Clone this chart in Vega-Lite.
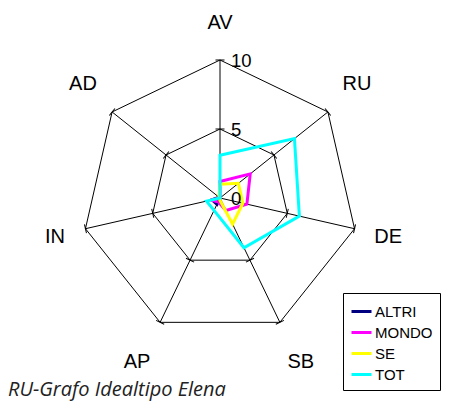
{
  "$schema": "https://vega.github.io/schema/vega-lite/v6.json",
  "width": 451,
  "height": 403,
  "autosize": "none",
  "padding": 0,
  "background": "white",
  "config": {"view": {"stroke": null}},
  "title": {"text": "RU-Grafo Idealtipo Elena", "orient": "bottom", "anchor": "start", "offset": -23, "dx": 8, "font": "Open Sans", "fontStyle": "italic", "fontWeight": "normal", "fontSize": 20, "color": "#222222"},
  "datasets": {
    "assi": [{"asse": "AV"}, {"asse": "RU"}, {"asse": "DE"}, {"asse": "SB"}, {"asse": "AP"}, {"asse": "IN"}, {"asse": "AD"}],
    "griglia": [
      {"asse": "AV", "livello": 5}, {"asse": "RU", "livello": 5}, {"asse": "DE", "livello": 5}, {"asse": "SB", "livello": 5}, {"asse": "AP", "livello": 5}, {"asse": "IN", "livello": 5}, {"asse": "AD", "livello": 5},
      {"asse": "AV", "livello": 10}, {"asse": "RU", "livello": 10}, {"asse": "DE", "livello": 10}, {"asse": "SB", "livello": 10}, {"asse": "AP", "livello": 10}, {"asse": "IN", "livello": 10}, {"asse": "AD", "livello": 10}
    ],
    "scala": [{"livello": 0, "etichetta": "0"}, {"livello": 5, "etichetta": "5"}, {"livello": 10, "etichetta": "10"}],
    "valori": [
      {"serie": "ALTRI", "asse": "AV", "v": 0}, {"serie": "ALTRI", "asse": "RU", "v": 0}, {"serie": "ALTRI", "asse": "DE", "v": 0}, {"serie": "ALTRI", "asse": "SB", "v": 0}, {"serie": "ALTRI", "asse": "AP", "v": 0.5}, {"serie": "ALTRI", "asse": "IN", "v": 0.6}, {"serie": "ALTRI", "asse": "AD", "v": 0.1},
      {"serie": "MONDO", "asse": "AV", "v": 1.2}, {"serie": "MONDO", "asse": "RU", "v": 2.8}, {"serie": "MONDO", "asse": "DE", "v": 2.0}, {"serie": "MONDO", "asse": "SB", "v": 1.0}, {"serie": "MONDO", "asse": "AP", "v": 0.3}, {"serie": "MONDO", "asse": "IN", "v": 0.7}, {"serie": "MONDO", "asse": "AD", "v": 0},
      {"serie": "SE", "asse": "AV", "v": 1.0}, {"serie": "SE", "asse": "RU", "v": 1.7}, {"serie": "SE", "asse": "DE", "v": 1.7}, {"serie": "SE", "asse": "SB", "v": 2.1}, {"serie": "SE", "asse": "AP", "v": 0.1}, {"serie": "SE", "asse": "IN", "v": 0}, {"serie": "SE", "asse": "AD", "v": 0.1},
      {"serie": "TOT", "asse": "AV", "v": 3.1}, {"serie": "TOT", "asse": "RU", "v": 6.9}, {"serie": "TOT", "asse": "DE", "v": 5.9}, {"serie": "TOT", "asse": "SB", "v": 4.0}, {"serie": "TOT", "asse": "AP", "v": 1.0}, {"serie": "TOT", "asse": "IN", "v": 1.0}, {"serie": "TOT", "asse": "AD", "v": 0}
    ]
  },
  "layer": [
    {
      "data": {"name": "griglia"},
      "transform": [
        {"calculate": "indexof(['AV','RU','DE','SB','AP','IN','AD'], datum.asse)", "as": "idx"},
        {"calculate": "datum.idx * 2 * PI / 7", "as": "th"},
        {"calculate": "datum.livello * sin(datum.th)", "as": "px"},
        {"calculate": "datum.livello * cos(datum.th)", "as": "py"}
      ],
      "mark": {"type": "line", "interpolate": "linear-closed", "stroke": "black", "strokeWidth": 1},
      "encoding": {
        "x": {"field": "px", "type": "quantitative", "scale": {"domain": [-15.942, 16.739], "nice": false, "zero": false}, "axis": null},
        "y": {"field": "py", "type": "quantitative", "scale": {"domain": [-14.855, 14.348], "nice": false, "zero": false}, "axis": null},
        "detail": {"field": "livello"},
        "order": {"field": "idx", "type": "quantitative"}
      }
    },
    {
      "data": {"name": "assi"},
      "transform": [
        {"calculate": "indexof(['AV','RU','DE','SB','AP','IN','AD'], datum.asse)", "as": "idx"},
        {"calculate": "datum.idx * 2 * PI / 7", "as": "th"},
        {"calculate": "10 * sin(datum.th)", "as": "px"},
        {"calculate": "10 * cos(datum.th)", "as": "py"}
      ],
      "mark": {"type": "rule", "stroke": "black", "strokeWidth": 1},
      "encoding": {
        "x": {"field": "px", "type": "quantitative", "scale": {"domain": [-15.942, 16.739], "nice": false, "zero": false}, "axis": null},
        "y": {"field": "py", "type": "quantitative", "scale": {"domain": [-14.855, 14.348], "nice": false, "zero": false}, "axis": null},
        "x2": {"datum": 0},
        "y2": {"datum": 0}
      }
    },
    {
      "data": {"name": "griglia"},
      "transform": [
        {"calculate": "indexof(['AV','RU','DE','SB','AP','IN','AD'], datum.asse)", "as": "idx"},
        {"calculate": "datum.idx * 2 * PI / 7", "as": "th"},
        {"calculate": "datum.idx * 360 / 7", "as": "deg"},
        {"calculate": "datum.livello * sin(datum.th)", "as": "px"},
        {"calculate": "datum.livello * cos(datum.th)", "as": "py"}
      ],
      "mark": {"type": "point", "shape": "stroke", "size": 81, "stroke": "black", "strokeWidth": 1, "filled": false, "opacity": 1},
      "encoding": {
        "x": {"field": "px", "type": "quantitative", "scale": {"domain": [-15.942, 16.739], "nice": false, "zero": false}, "axis": null},
        "y": {"field": "py", "type": "quantitative", "scale": {"domain": [-14.855, 14.348], "nice": false, "zero": false}, "axis": null},
        "angle": {"field": "deg", "type": "quantitative", "scale": null}
      }
    },
    {
      "data": {"name": "valori"},
      "transform": [
        {"calculate": "indexof(['AV','RU','DE','SB','AP','IN','AD'], datum.asse)", "as": "idx"},
        {"calculate": "datum.idx * 2 * PI / 7", "as": "th"},
        {"calculate": "datum.v * sin(datum.th)", "as": "px"},
        {"calculate": "datum.v * cos(datum.th)", "as": "py"}
      ],
      "mark": {"type": "line", "interpolate": "linear-closed", "strokeJoin": "miter"},
      "encoding": {
        "x": {"field": "px", "type": "quantitative", "scale": {"domain": [-15.942, 16.739], "nice": false, "zero": false}, "axis": null},
        "y": {"field": "py", "type": "quantitative", "scale": {"domain": [-14.855, 14.348], "nice": false, "zero": false}, "axis": null},
        "order": {"field": "idx", "type": "quantitative"},
        "color": {
          "field": "serie", "type": "nominal",
          "scale": {"domain": ["ALTRI", "MONDO", "SE", "TOT"], "range": ["#000080", "#FF00FF", "#FFFF00", "#00FFFF"]},
          "legend": {"orient": "none", "legendX": 343, "legendY": 293, "title": null, "symbolType": "stroke", "symbolSize": 400, "symbolStrokeWidth": 3, "labelFont": "Liberation Sans", "labelFontSize": 15, "labelColor": "black", "labelOffset": 2, "strokeColor": "black", "fillColor": "white", "padding": 7, "rowPadding": 1}
        },
        "strokeWidth": {"field": "serie", "type": "nominal", "scale": {"domain": ["ALTRI", "MONDO", "SE", "TOT"], "range": [3, 3, 3, 4]}, "legend": null}
      }
    },
    {
      "data": {"name": "assi"},
      "transform": [
        {"calculate": "indexof(['AV','RU','DE','SB','AP','IN','AD'], datum.asse)", "as": "idx"},
        {"calculate": "datum.idx * 2 * PI / 7", "as": "th"},
        {"calculate": "{'AV': 12.7, 'RU': 12.7, 'DE': 12.5, 'SB': 13.5, 'AP': 13.85, 'IN': 12.26, 'AD': 12.7}[datum.asse]", "as": "rx"},
        {"calculate": "{'AV': 12.7, 'RU': 13.25, 'DE': 12.54, 'SB': 13.23, 'AP': 13.23, 'IN': 12.54, 'AD': 13.25}[datum.asse]", "as": "ry"},
        {"calculate": "datum.rx * sin(datum.th)", "as": "px"},
        {"calculate": "datum.ry * cos(datum.th)", "as": "py"}
      ],
      "mark": {"type": "text", "font": "Liberation Sans", "fontSize": 20, "color": "black", "align": "center", "baseline": "middle"},
      "encoding": {
        "x": {"field": "px", "type": "quantitative", "scale": {"domain": [-15.942, 16.739], "nice": false, "zero": false}, "axis": null},
        "y": {"field": "py", "type": "quantitative", "scale": {"domain": [-14.855, 14.348], "nice": false, "zero": false}, "axis": null},
        "text": {"field": "asse"}
      }
    },
    {
      "data": {"name": "scala"},
      "transform": [
        {"calculate": "0", "as": "px"},
        {"calculate": "datum.livello", "as": "py"}
      ],
      "mark": {"type": "text", "font": "Liberation Sans", "fontSize": 18.5, "color": "black", "align": "left", "baseline": "middle", "dx": 11, "dy": 1},
      "encoding": {
        "x": {"field": "px", "type": "quantitative", "scale": {"domain": [-15.942, 16.739], "nice": false, "zero": false}, "axis": null},
        "y": {"field": "py", "type": "quantitative", "scale": {"domain": [-14.855, 14.348], "nice": false, "zero": false}, "axis": null},
        "text": {"field": "etichetta"}
      }
    }
  ]
}
